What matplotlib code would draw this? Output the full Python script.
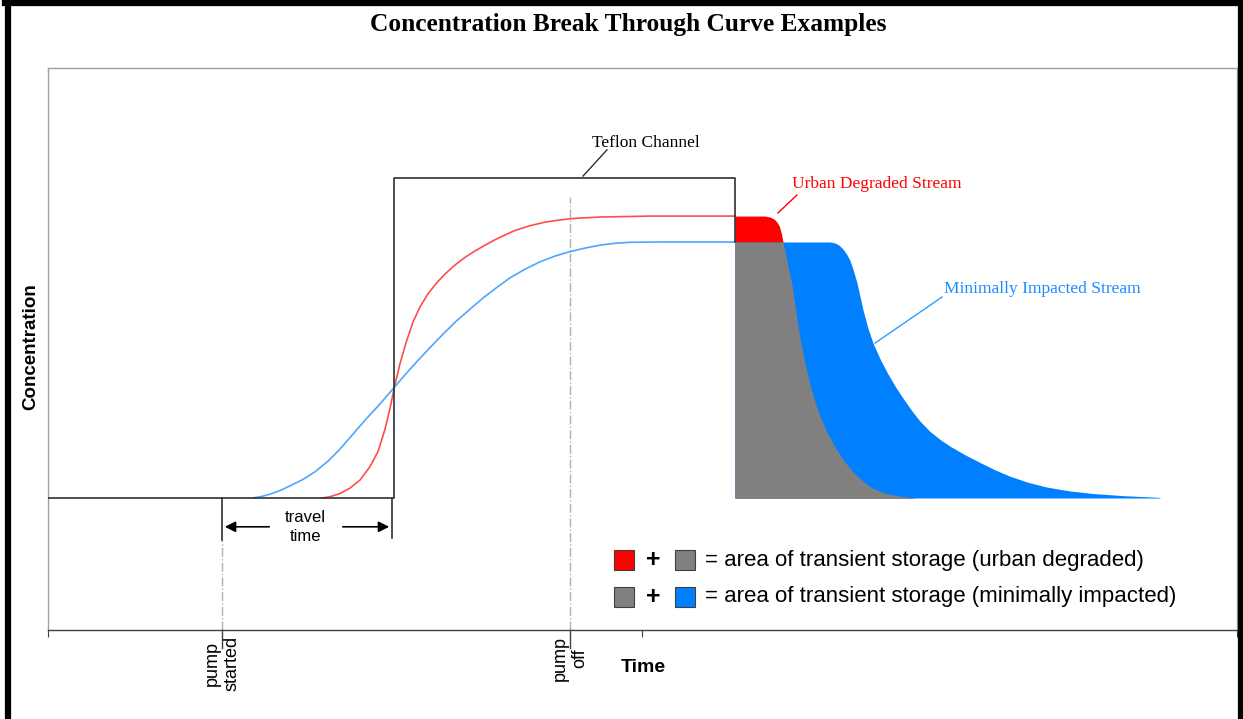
import numpy as np
import matplotlib
matplotlib.use("Agg")
import matplotlib.pyplot as plt
from matplotlib.patches import Rectangle

# --- данные (время в условных единицах, концентрация: тефлон = 1) ---
red_rise_t = [322, 330, 340, 350, 360, 370, 378, 385, 390, 395, 400, 406, 413, 420, 428,
              436, 445, 455, 465, 475, 485, 495, 505, 515, 530, 545, 560, 575, 600, 650, 735]
red_rise_c = [0.0, 0.004, 0.014, 0.031, 0.056, 0.098, 0.145, 0.215, 0.28, 0.355, 0.42,
              0.485, 0.55, 0.597, 0.638, 0.67, 0.70, 0.728, 0.752, 0.772, 0.79, 0.807,
              0.822, 0.836, 0.851, 0.862, 0.869, 0.874, 0.878, 0.881, 0.881]

blue_rise_t = [253, 262, 272, 282, 292, 303, 315, 328, 340, 352, 365, 380, 393, 405, 418,
               430, 443, 456, 470, 483, 496, 510, 525, 540, 555, 570, 585, 600, 615, 630,
               660, 735]
blue_rise_c = [0.0, 0.005, 0.014, 0.026, 0.041, 0.058, 0.082, 0.115, 0.153, 0.196, 0.243,
               0.294, 0.341, 0.385, 0.43, 0.47, 0.512, 0.552, 0.59, 0.625, 0.656, 0.688,
               0.715, 0.738, 0.756, 0.77, 0.781, 0.79, 0.796, 0.799, 0.80, 0.80]

urban_tail_t = [735, 765, 770, 774, 777, 779.5, 781.5, 783, 785, 788, 792, 796, 800, 805,
                810, 815, 820, 827, 835, 843, 852, 862, 872, 885, 900, 915]
urban_tail_c = [0.881, 0.881, 0.878, 0.872, 0.862, 0.848, 0.825, 0.80, 0.77, 0.725, 0.665,
                0.58, 0.50, 0.42, 0.355, 0.30, 0.255, 0.205, 0.16, 0.12, 0.085, 0.055,
                0.032, 0.015, 0.006, 0.0]

minimal_tail_t = [735, 830, 835, 839, 843, 847, 850, 853, 857, 860, 863, 868, 873, 880,
                  887, 895, 903, 912, 920, 930, 940, 950, 965, 980, 995, 1010, 1028,
                  1047, 1070, 1093, 1125, 1160]
minimal_tail_c = [0.80, 0.80, 0.797, 0.79, 0.778, 0.76, 0.742, 0.715, 0.672, 0.63, 0.588,
                  0.53, 0.484, 0.435, 0.393, 0.35, 0.312, 0.272, 0.24, 0.208, 0.183,
                  0.162, 0.135, 0.111, 0.088, 0.068, 0.049, 0.034, 0.022, 0.014, 0.007,
                  0.002]

teflon_t = [48, 394, 394, 735, 735]
teflon_c = [0.0, 0.0, 1.0, 1.0, 0.80]

pump_started = 222
pump_off = 570
travel_end = 392
blue_plateau = 0.80

RED = "#ff0000"
BLUE = "#0080ff"
GRAY = "#808080"

fig = plt.figure(figsize=(12.43, 7.19), dpi=100)
W, H = 1243, 719
ax = fig.add_axes([48 / W, (H - 630) / H, (1237 - 48) / W, (630 - 68) / H])
ax.set_xlim(48, 1237)
ax.set_ylim(-0.4125, 1.34375)

# рамка осей
for s in ["left", "top", "right"]:
    ax.spines[s].set_color("#a0a0a0")
    ax.spines[s].set_linewidth(1.0)
ax.spines["bottom"].set_color("#404040")
ax.spines["bottom"].set_linewidth(1.0)
ax.set_yticks([])
ax.set_xticks([48, 642, 1237])
ax.set_xticklabels([])
ax.tick_params(axis="x", direction="out", length=5, color="#404040")

# заливки (хвосты)
ax.fill_between(urban_tail_t, 0, urban_tail_c, color=RED, lw=0, zorder=2)
ax.fill_between(minimal_tail_t, 0, minimal_tail_c, color=BLUE, lw=0, zorder=3)
ax.fill_between(urban_tail_t, 0, np.minimum(urban_tail_c, blue_plateau),
                color=GRAY, lw=0, zorder=4)

# кривые подъёма
ax.plot(red_rise_t, red_rise_c, color="#ff4d4d", lw=1.2, zorder=5)
ax.plot(blue_rise_t, blue_rise_c, color="#4da6ff", lw=1.2, zorder=5)

# тефлоновый канал
ax.plot(teflon_t, teflon_c, color="#303030", lw=1.2, zorder=6)

# штрихпунктирные вертикали
ax.plot([pump_off, pump_off], [-0.4125, 0.94], color="#b0b0b0", lw=1, ls="-.", zorder=1)
ax.plot([pump_started, pump_started], [-0.4125, -0.13], color="#b0b0b0", lw=1, ls="-.", zorder=1)
for t in [pump_started, pump_off]:
    ax.plot([t, t], [-0.4125, -0.47], color="#404040", lw=1, clip_on=False)

# travel time
ax.plot([pump_started, pump_started], [0, -0.13], color="#303030", lw=1.2)
ax.plot([travel_end, travel_end], [0, -0.125], color="#303030", lw=1.2)
ax.annotate("", xy=(pump_started, -0.09), xytext=(272, -0.09),
            arrowprops=dict(arrowstyle="-|>", color="black", lw=1.2, mutation_scale=16))
ax.annotate("", xy=(travel_end, -0.09), xytext=(340, -0.09),
            arrowprops=dict(arrowstyle="-|>", color="black", lw=1.2, mutation_scale=16))
ax.text(305, -0.09, "travel\ntime", ha="center", va="center", fontsize=12,
        family="Liberation Sans", linespacing=1.35)

# подписи-выноски
ax.plot([583, 607], [1.006, 1.088], color="#303030", lw=1)
ax.text(592, 1.11, "Teflon Channel", ha="left", va="center", fontsize=12.5,
        family="Liberation Serif", color="black")
ax.plot([778, 797], [0.891, 0.947], color=RED, lw=1)
ax.text(792, 0.981, "Urban Degraded Stream", ha="left", va="center", fontsize=12.5,
        family="Liberation Serif", color=RED)
ax.plot([875, 942], [0.484, 0.628], color="#3399ff", lw=1)
ax.text(944, 0.653, "Minimally Impacted Stream", ha="left", va="center", fontsize=12.5,
        family="Liberation Serif", color="#1a8cff")

# легенда
rows = [(-0.194, RED, GRAY, "= area of transient storage (urban degraded)"),
        (-0.309, GRAY, BLUE, "= area of transient storage (minimally impacted)")]
for yc, c1, c2, label in rows:
    ax.add_patch(Rectangle((614, yc - 0.031), 20, 0.0625, facecolor=c1,
                           edgecolor="#404040", lw=0.8, zorder=6))
    ax.text(653, yc, "+", ha="center", va="center", fontsize=18, fontweight="bold",
            family="Liberation Sans")
    ax.add_patch(Rectangle((675, yc - 0.031), 20, 0.0625, facecolor=c2,
                           edgecolor="#404040", lw=0.8, zorder=6))
    ax.text(705, yc, label, ha="left", va="center", fontsize=16, family="Liberation Sans")

# подписи осей
ax.text(pump_started, -0.43, "pump\nstarted", rotation=90, ha="center", va="top",
        fontsize=13, family="Liberation Sans", linespacing=1.25)
ax.text(pump_off, -0.43, "pump\noff", rotation=90, ha="center", va="top",
        fontsize=13, family="Liberation Sans", linespacing=1.25)
fig.text(643 / W, 1 - 667 / H, "Time", ha="center", va="center", fontsize=14,
         fontweight="bold", family="Liberation Sans")
fig.text(31 / W, 1 - 347 / H, "Concentration", ha="center", va="center", rotation=90,
         fontsize=13.5, fontweight="bold", family="Liberation Sans")

fig.text(628 / W, 1 - 24 / H, "Concentration Break Through Curve Examples", ha="center",
         va="center", fontsize=18.3, fontweight="bold", family="Liberation Serif")

# толстая чёрная рамка
fig.add_artist(plt.Line2D([7.5 / W, 7.5 / W], [0, 1 - 3 / H], color="black", lw=4.5))
fig.add_artist(plt.Line2D([5 / W, 1241 / W], [1 - 3 / H, 1 - 3 / H], color="black", lw=4.5))
fig.add_artist(plt.Line2D([1240.5 / W, 1240.5 / W], [0, 1 - 3 / H], color="black", lw=4.5))

fig.savefig("out.png", dpi=100)
